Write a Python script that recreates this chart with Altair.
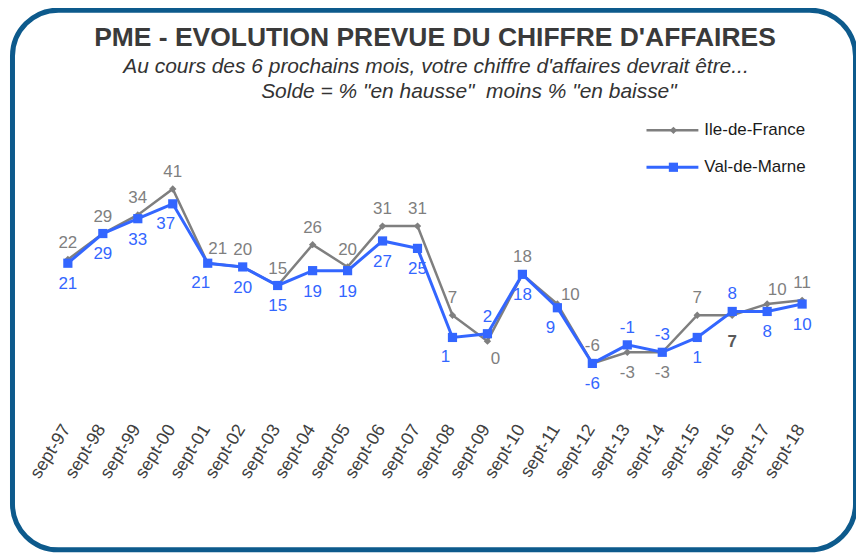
import altair as alt
import pandas as pd

# ---- data ----
periods = ["sept-97", "sept-98", "sept-99", "sept-00", "sept-01", "sept-02", "sept-03",
           "sept-04", "sept-05", "sept-06", "sept-07", "sept-08", "sept-09", "sept-10",
           "sept-11", "sept-12", "sept-13", "sept-14", "sept-15", "sept-16", "sept-17",
           "sept-18"]
ile_de_france = [22, 29, 34, 41, 21, 20, 15, 26, 20, 31, 31, 7, 0, 18, 10, -6, -3, -3, 7, 7, 10, 11]
val_de_marne = [21, 29, 33, 37, 21, 20, 15, 19, 19, 27, 25, 1, 2, 18, 9, -6, -1, -3, 1, 8, 8, 10]
series_names = ["Ile-de-France", "Val-de-Marne"]

title_text = "PME - EVOLUTION PREVUE DU CHIFFRE D'AFFAIRES"
subtitle_1 = "Au cours des 6 prochains mois, votre chiffre d'affaires devrait être..."
subtitle_2 = 'Solde = % "en hausse"\u00a0\u00a0moins % "en baisse"'

# ---- label placement (layout, not data) ----
place_idf = ["a", "a", "a", "a", "ar", "a", "a", "a", "a", "a", "a", "a", "br", "a", "r",
             "a", "b", "b", "a", "b2", "ar", "a"]
place_vdm = ["b", "b", "b", "bl", "bl", "b", "b", "b", "b", "b", "b", "bl", "a", "b", "bl",
             "b", "a", "a", "b", "a", "b", "b"]
offsets = {"a": (0, -17), "b": (0, 21), "ar": (10, -14), "br": (8, 18),
           "r": (13, -9), "bl": (-7, 20), "b2": (0, 27)}

GRAY = "#7f7f7f"
BLUE = "#3366ff"
FONT = "Liberation Sans"

rows = []
for i, p in enumerate(periods):
    rows.append({"period": p, "series": series_names[0], "value": ile_de_france[i],
                 "label": str(ile_de_france[i]), "place": place_idf[i]})
    rows.append({"period": p, "series": series_names[1], "value": val_de_marne[i],
                 "label": str(val_de_marne[i]), "place": place_vdm[i]})
df = pd.DataFrame(rows)
one = pd.DataFrame({"k": [0]})

xs = alt.X("period:N", sort=periods,
           scale=alt.Scale(type="point", domain=periods, range=[60, 796], padding=0), axis=None)
ys = alt.Y("value:Q", scale=alt.Scale(domain=[-10, 45], range=[370.5, 165.9], nice=False, zero=False),
           axis=None)

base = alt.Chart(df)

layers = []

# border
layers.append(alt.Chart(one).mark_rect(fill="white", stroke="#0d5a8c", strokeWidth=5,
                                       cornerRadius=46).encode(
    x=alt.value(4.5), x2=alt.value(849.5), y=alt.value(1.5), y2=alt.value(542.5)))

for name, color, shape, size, sw in [(series_names[0], GRAY, "diamond", 55, 2.5),
                                     (series_names[1], BLUE, "square", 85, 3)]:
    sub = base.transform_filter(alt.datum.series == name)
    layers.append(sub.mark_line(color=color, strokeWidth=sw).encode(x=xs, y=ys))
    layers.append(sub.mark_point(shape=shape, filled=True, color=color, size=size, opacity=1)
                  .encode(x=xs, y=ys))

# data labels
for name, color in [(series_names[0], GRAY), (series_names[1], BLUE)]:
    for key, (dx, dy) in offsets.items():
        c = color
        weight = "normal"
        if key == "b2":
            c = "#595959"
            weight = "bold"
        layers.append(base.transform_filter(
            (alt.datum.series == name) & (alt.datum.place == key)).mark_text(
            font=FONT, fontSize=17, color=c, fontWeight=weight, dx=dx, dy=dy,
            align="center", baseline="middle").encode(x=xs, y=ys, text="label:N"))

# category labels
cat_df = pd.DataFrame({"period": periods})
layers.append(alt.Chart(cat_df).mark_text(
    font=FONT, fontSize=18, color="#404040", angle=302, align="right", baseline="middle",
    dx=-2).encode(x=xs, y=alt.value(417), text="period:N"))

# titles
layers.append(alt.Chart(one).mark_text(font=FONT, fontSize=26.5, fontWeight="bold", color="#3a3a3a",
                                       align="center", baseline="middle")
              .encode(x=alt.value(428), y=alt.value(29), text=alt.value(title_text)))
layers.append(alt.Chart(one).mark_text(font=FONT, fontSize=21, fontStyle="italic", color="#333333",
                                       align="center", baseline="middle")
              .encode(x=alt.value(429), y=alt.value(59), text=alt.value(subtitle_1)))
layers.append(alt.Chart(one).mark_text(font=FONT, fontSize=21, fontStyle="italic", color="#333333",
                                       align="center", baseline="middle")
              .encode(x=alt.value(462), y=alt.value(84), text=alt.value(subtitle_2)))

# legend
for name, color, shape, size, sw, ly in [(series_names[0], GRAY, "diamond", 55, 2.5, 122),
                                         (series_names[1], BLUE, "square", 85, 3, 159)]:
    leg = pd.DataFrame({"series": [name]})
    layers.append(alt.Chart(leg).mark_rule(color=color, strokeWidth=sw).encode(
        x=alt.value(640), x2=alt.value(692), y=alt.value(ly)))
    layers.append(alt.Chart(leg).mark_point(shape=shape, filled=True, color=color, size=size,
                                            opacity=1).encode(x=alt.value(667), y=alt.value(ly)))
    layers.append(alt.Chart(leg).mark_text(font=FONT, fontSize=17, color="#1a1a1a", align="left",
                                           baseline="middle").encode(
        x=alt.value(698), y=alt.value(ly), text="series:N"))

chart = alt.layer(*layers).properties(
    width=850, height=545, autosize="none", padding=0
).configure_view(stroke=None)

chart.save("out.html", embed_options={"renderer": "svg", "actions": False})
